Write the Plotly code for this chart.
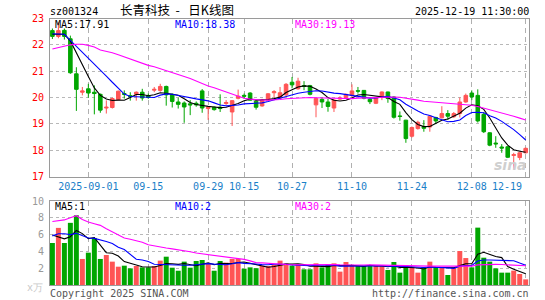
import pandas as pd
import plotly.graph_objects as go

# ---------------- data ----------------
days = pd.bdate_range("2025-08-22", "2025-12-19")
holidays = set(pd.date_range("2025-10-01", "2025-10-08"))
dates = [d.strftime("%Y-%m-%d") for d in days if d not in holidays]

opens = [22.54, 22.32, 22.55, 22.23, 20.90, 20.20, 20.33, 20.20, 20.12, 19.60,
         19.62, 19.92, 20.15, 20.07, 20.12, 20.20, 20.06, 20.28, 20.27, 20.42,
         20.12, 19.83, 19.79, 19.76, 19.78, 20.25, 19.58, 19.63, 19.63, 19.77,
         19.45, 19.97, 20.08, 20.17, 19.86, 19.68, 19.90, 20.18, 19.98, 20.10,
         20.58, 20.33, 20.45, 20.45, 19.72, 19.93, 19.83, 19.60, 19.94, 20.00,
         20.08, 20.26, 20.27, 19.93, 19.78, 20.03, 20.21, 20.02, 19.30, 19.14,
         18.53, 18.82, 18.90, 18.88, 19.24, 19.23, 19.39, 19.27, 19.39, 19.83,
         20.17, 20.08, 19.36, 18.66, 18.27, 18.12, 18.13, 17.80, 17.72, 17.90]
highs = [22.62, 22.86, 22.62, 22.35, 21.15, 20.40, 20.52, 20.46, 20.15, 19.89,
         20.00, 20.26, 20.27, 20.20, 20.23, 20.33, 20.15, 20.40, 20.52, 20.45,
         20.15, 19.99, 19.85, 19.90, 19.85, 20.32, 19.66, 19.66, 20.12, 19.90,
         19.90, 20.30, 20.15, 20.20, 19.88, 19.95, 20.17, 20.28, 20.40, 20.55,
         20.78, 20.75, 20.62, 20.48, 19.98, 20.00, 19.95, 19.95, 20.05, 20.15,
         20.50, 20.40, 20.28, 19.96, 20.02, 20.23, 20.22, 20.05, 19.47, 19.15,
         18.90, 19.12, 19.14, 19.30, 19.27, 19.67, 19.52, 19.45, 20.00, 20.15,
         20.27, 20.31, 19.45, 18.68, 18.53, 18.23, 18.15, 17.90, 17.92, 18.10]
lows = [22.22, 22.25, 22.20, 20.90, 19.49, 20.08, 19.99, 19.36, 19.42, 19.39,
        19.58, 19.90, 19.96, 19.88, 19.88, 19.88, 19.95, 20.20, 20.22, 19.69,
        19.62, 19.58, 19.04, 19.33, 19.65, 19.42, 19.15, 19.50, 19.45, 19.72,
        18.92, 19.93, 19.95, 19.88, 19.54, 19.65, 19.88, 20.00, 19.95, 20.05,
        20.35, 20.30, 20.28, 20.08, 19.25, 19.60, 19.46, 19.45, 19.90, 19.97,
        20.00, 20.15, 19.93, 19.75, 19.75, 19.90, 19.80, 19.20, 19.12, 18.28,
        18.48, 18.78, 18.70, 18.70, 18.99, 19.20, 19.15, 19.22, 19.24, 19.80,
        19.90, 19.05, 18.65, 18.15, 18.09, 17.90, 17.70, 17.27, 17.62, 17.88]
closes = [22.32, 22.54, 22.32, 20.94, 20.31, 20.25, 20.17, 20.15, 19.52, 19.63,
          19.96, 20.24, 20.12, 20.04, 20.20, 19.98, 20.00, 20.31, 20.42, 20.10,
          19.85, 19.74, 19.64, 19.72, 19.72, 19.60, 19.63, 19.54, 19.58, 19.81,
          19.88, 20.05, 20.05, 19.90, 19.63, 19.90, 20.14, 20.22, 20.18, 20.50,
          20.48, 20.62, 20.42, 20.12, 19.96, 19.83, 19.66, 19.90, 19.98, 20.12,
          20.25, 20.24, 19.97, 19.84, 20.00, 20.21, 19.96, 19.25, 19.28, 18.44,
          18.86, 19.06, 18.83, 19.29, 19.11, 19.39, 19.29, 19.39, 19.83, 20.08,
          20.02, 19.11, 18.70, 18.19, 18.24, 18.08, 17.73, 17.83, 17.90, 18.07]
volumes = [5.00, 6.80, 5.00, 7.40, 8.30, 3.10, 3.85, 5.60, 3.10, 3.57,
           2.78, 2.18, 2.30, 1.98, 2.26, 2.10, 2.10, 2.26, 2.90, 3.37,
           2.06, 1.70, 2.78, 2.06, 2.86, 2.98, 2.50, 1.70, 2.86, 2.66,
           3.10, 3.10, 1.94, 2.10, 2.00, 2.30, 2.26, 2.38, 2.90, 2.58,
           2.30, 2.50, 1.87, 1.87, 2.58, 2.10, 2.50, 2.58, 1.59, 2.74,
           2.26, 2.26, 2.26, 2.26, 2.26, 2.26, 1.79, 2.74, 1.47, 2.38,
           2.10, 1.47, 2.10, 2.78, 2.10, 2.10, 1.19, 2.10, 4.05, 3.21,
           2.10, 6.83, 3.25, 2.78, 1.98, 1.47, 1.47, 1.71, 1.31, 0.67]

# moving-average values visible before a full window exists
ma5_head = [22.40, 22.40, 22.40, 22.15]
ma10_head = [22.42, 22.42, 22.40, 22.17, 21.95, 21.72, 21.50, 21.27, 21.05]
ma30_head = [21.84, 21.90, 21.96, 22.00, 22.02, 22.02, 21.98, 21.92, 21.80, 21.75,
             21.70, 21.62, 21.54, 21.45, 21.36, 21.28, 21.22, 21.17, 21.10, 21.02,
             20.95, 20.88, 20.80, 20.72, 20.62, 20.52, 20.44, 20.37, 20.29]
vma5_head = [5.95, 5.75, 5.50, 5.75]
vma10_head = [5.85, 6.10, 6.10, 6.00, 6.15, 5.85, 5.60, 5.55, 5.40]
vma30_head = [7.55, 7.65, 7.75, 8.00, 8.25, 7.80, 7.50, 7.30, 7.10, 6.70,
              6.30, 5.90, 5.60, 5.45, 5.30, 5.10, 4.80, 4.65, 4.50, 4.40,
              4.30, 4.20, 4.05, 3.95, 3.80, 3.70, 3.60, 3.50, 3.42]

tick_dates = ["2025-09-01", "2025-09-15", "2025-09-29", "2025-10-15", "2025-10-27",
              "2025-11-10", "2025-11-24", "2025-12-08", "2025-12-19"]
tick_text = ["2025-09-01", "09-15", "09-29", "10-15", "10-27", "11-10", "11-24",
             "12-08", "12-19"]

price_ticks = [17, 18, 19, 20, 21, 22, 23]
vol_ticks = [2, 4, 6, 8, 10]

title_code = "sz001324"
title_name = "长青科技\u00a0\u00a0-\u00a0\u00a0\u00a0日K线图"
timestamp = "2025-12-19 11:30:00"
price_ma_labels = ["MA5:17.91", "MA10:18.38", "MA30:19.13"]
vol_ma_labels = ["MA5:1", "MA10:2", "MA30:2"]


def moving(vals, n, head):
    s = pd.Series(vals, dtype=float).rolling(n).mean()
    s.iloc[:len(head)] = head
    return s.tolist()


ma5 = moving(closes, 5, ma5_head)
ma10 = moving(closes, 10, ma10_head)
ma30 = moving(closes, 30, ma30_head)
vma5 = moving(volumes, 5, vma5_head)
vma10 = moving(volumes, 10, vma10_head)
vma30 = moving(volumes, 30, vma30_head)

# ---------------- styling ----------------
RED = "#ff5454"
GREEN = "#00a600"
MA_COLORS = ["#000000", "#0000ff", "#ff00ff"]
DATE_BLUE = "#1a80c8"
MONO = "DejaVu Sans Mono"
W, H = 545, 300
XL, XR = 50, 529

fig = go.Figure()
fig.add_trace(go.Candlestick(
    x=dates, open=opens, high=highs, low=lows, close=closes,
    increasing=dict(line=dict(color=RED, width=1), fillcolor=RED),
    decreasing=dict(line=dict(color=GREEN, width=1), fillcolor=GREEN),
    whiskerwidth=0, xaxis="x", yaxis="y", hoverinfo="skip", showlegend=False))
for series, col in zip([ma5, ma10, ma30], MA_COLORS):
    fig.add_trace(go.Scatter(x=dates, y=series, mode="lines", line=dict(color=col, width=1.1),
                             xaxis="x", yaxis="y", hoverinfo="skip", showlegend=False))

vol_colors = [RED if c >= o else GREEN for o, c in zip(opens, closes)]
fig.add_trace(go.Bar(x=dates, y=volumes, marker=dict(color=vol_colors, line=dict(width=0)),
                     width=0.83, xaxis="x2", yaxis="y2", hoverinfo="skip", showlegend=False))
for series, col in zip([vma5, vma10, vma30], MA_COLORS):
    fig.add_trace(go.Scatter(x=dates, y=series, mode="lines", line=dict(color=col, width=1.1),
                             xaxis="x2", yaxis="y2", hoverinfo="skip", showlegend=False))

xdom = [XL / W, XR / W]
common_x = dict(domain=xdom, type="category", categoryorder="array", categoryarray=dates,
                range=[-0.4, 79.55], tickvals=tick_dates, showgrid=True, gridcolor="#b0b0b0",
                griddash="5px,4px", gridwidth=1, showline=True, mirror=True, linecolor="#9a9a9a",
                linewidth=1, ticks="", zeroline=False, fixedrange=True, automargin=False)
common_y = dict(showgrid=True, gridcolor="#b8b8b8", griddash="dot", gridwidth=1, showline=True,
                mirror=True, linecolor="#9a9a9a", linewidth=1, ticks="", zeroline=False,
                fixedrange=True, ticklabelstandoff=3, automargin=False)

# the last date label sits flush with the right frame, so it is drawn as an annotation
axis_text = tick_text[:-1] + [""]

fig.update_layout(
    width=W, height=H, margin=dict(l=0, r=0, t=0, b=0, pad=0, autoexpand=False), autosize=False,
    paper_bgcolor="white", plot_bgcolor="white", showlegend=False, boxgap=0.15,
    font=dict(family=MONO, size=10, color="#000"),
    xaxis=dict(**common_x, anchor="y", ticktext=axis_text, showticklabels=True,
               tickfont=dict(family=MONO, size=10, color=DATE_BLUE),
               rangeslider=dict(visible=False)),
    yaxis=dict(**common_y, domain=[1 - 176.5 / H, 1 - 18.5 / H], range=[17, 23],
               tickvals=price_ticks, tickfont=dict(family=MONO, size=10, color="#ff0000")),
    xaxis2=dict(**common_x, anchor="y2", showticklabels=False),
    yaxis2=dict(**common_y, domain=[1 - 285 / H, 1 - 201 / H], range=[0, 10],
                tickvals=vol_ticks, tickfont=dict(family=MONO, size=10, color="#999999")),
)

ann = []


def txt(x, y, s, color="#000", size=10, family=MONO, xanchor="left", **kw):
    ann.append(dict(x=x / W, y=1 - y / H, xref="paper", yref="paper", text=s, showarrow=False,
                    xanchor=xanchor, yanchor="middle", borderpad=0,
                    font=dict(family=family, size=size, color=color), **kw))


txt(49, 11.5, title_code)
txt(119, 10, title_name, size=12.5, family="Noto Sans CJK SC")
txt(530, 11.5, timestamp, xanchor="right")
for s, x0, col in zip(price_ma_labels, [54, 174, 294], MA_COLORS):
    txt(x0, 24.5, s, color=col)
for s, x0, col in zip(vol_ma_labels, [54, 174, 294], MA_COLORS):
    txt(x0, 206, s, color=col)
txt(523, 186, tick_text[-1], color=DATE_BLUE, xanchor="right")
txt(49, 293, "Copyright 2025 SINA.COM", color="#555555")
txt(530, 293, "http://finance.sina.com.cn", color="#555555", xanchor="right")
txt(44, 287, "x万", color="#c8c8c8", size=10, xanchor="right")
txt(528, 165, "<b><i>sina</i></b>", color="#cfcfcf", size=14, family="DejaVu Sans", xanchor="right")

fig.update_layout(annotations=ann)
fig.write_html("out.html")
